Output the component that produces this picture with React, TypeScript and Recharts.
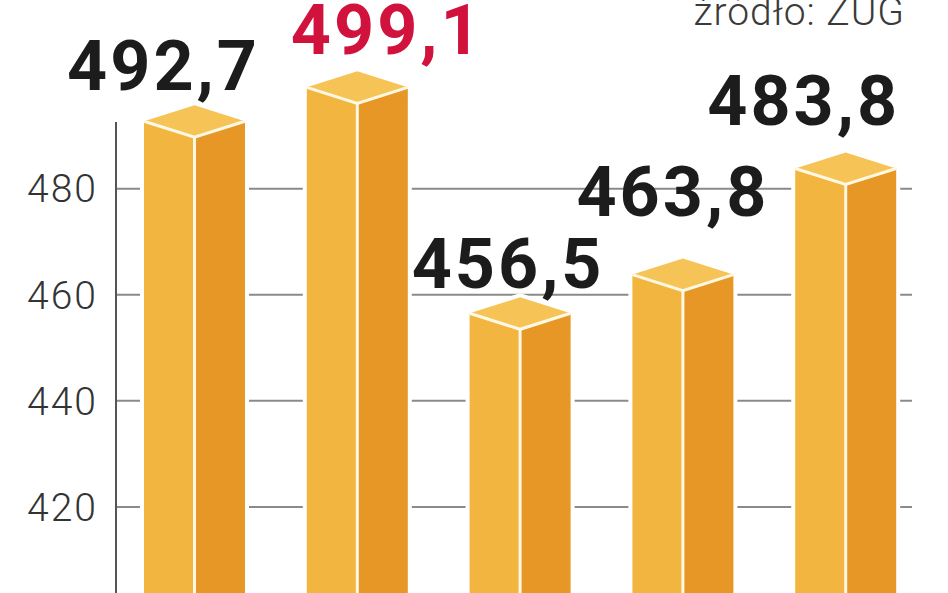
import { Bar, BarChart, CartesianGrid, LabelList, XAxis, YAxis } from 'recharts';

// yearly values
const periods = ['2009', '2010', '2011', '2012', '2013'];
const values = [492.7, 499.1, 456.5, 463.8, 483.8];
const valueLabels = ['492,7', '499,1', '456,5', '463,8', '483,8'];
const yTicks = [420, 440, 460, 480];
const highlightIndex = 1;

// hand-placed label nudges (relative to bar centre / top edge), like in the print original
const labelNudgeX = [-31, 30, -12, -10, -42];
const labelNudgeY = [-31, -33, -25, -59, -43];

const data = periods.map((period, i) => ({ period, value: values[i], label: valueLabels[i] }));

const DEPTH = 16;
const FRONT_LEFT = '#f2b640';
const FRONT_RIGHT = '#e69726';
const TOP_FACE = '#f6c456';
const EDGE = '#fff8e4';

function BoxBar(props: any) {
  const { x, y, width, height } = props;
  const cx = x + width / 2;
  const bottom = y + height;
  const silhouette = `${x},${bottom} ${x},${y} ${cx},${y - DEPTH} ${x + width},${y} ${x + width},${bottom}`;
  return (
    <g>
      <polygon points={silhouette} fill="#fff" stroke="#fff" strokeWidth={8} strokeLinejoin="round" />
      <polygon points={`${x},${y} ${cx},${y + DEPTH} ${cx},${bottom} ${x},${bottom}`} fill={FRONT_LEFT} />
      <polygon points={`${cx},${y + DEPTH} ${x + width},${y} ${x + width},${bottom} ${cx},${bottom}`} fill={FRONT_RIGHT} />
      <polygon points={`${x},${y} ${cx},${y - DEPTH} ${x + width},${y} ${cx},${y + DEPTH}`} fill={TOP_FACE} />
      <polyline
        points={`${x},${y} ${cx},${y + DEPTH} ${x + width},${y}`}
        fill="none"
        stroke={EDGE}
        strokeWidth={3}
      />
      <line x1={cx} y1={y + DEPTH} x2={cx} y2={bottom} stroke={EDGE} strokeWidth={3} />
    </g>
  );
}

function ValueLabel(props: any) {
  const { x, y, width, index, value } = props;
  return (
    <text
      x={x + width / 2 + labelNudgeX[index]}
      y={y + labelNudgeY[index]}
      textAnchor="middle"
      fontFamily="Roboto, sans-serif"
      fontWeight={700}
      fontSize={70}
      letterSpacing={3}
      fill={index === highlightIndex ? '#d0123d' : '#1c1c1c'}
    >
      {value}
    </text>
  );
}

export default function App() {
  return (
    <div
      style={{
        position: 'absolute',
        left: 0,
        top: 0,
        width: 948,
        height: 593,
        overflow: 'hidden',
        background: '#fff',
      }}
    >
      <BarChart
        width={948}
        height={613}
        data={data}
        margin={{ top: 3, right: 36, bottom: 0, left: 0 }}
        barSize={101}
      >
        <CartesianGrid vertical={false} syncWithTicks stroke="#8a8a8a" strokeWidth={2} />
        <XAxis dataKey="period" hide padding={{ left: -3, right: -15 }} />
        <YAxis
          width={116}
          domain={[400, 515]}
          ticks={yTicks}
          tickLine={false}
          tickMargin={12}
          axisLine={{ stroke: '#555', strokeWidth: 2, strokeDasharray: '0 119 2000' }}
          tick={{
            fontFamily: 'Roboto, sans-serif',
            fontWeight: 300,
            fontSize: 39,
            fill: '#333',
            letterSpacing: 2,
          }}
        />
        <Bar dataKey="value" shape={BoxBar} isAnimationActive={false}>
          <LabelList dataKey="label" content={ValueLabel} />
        </Bar>
      </BarChart>
      <div
        style={{
          position: 'absolute',
          right: 43,
          top: -11,
          fontFamily: 'Roboto, sans-serif',
          fontWeight: 300,
          fontSize: 39,
          letterSpacing: 1,
          color: '#3a3a3a',
          lineHeight: '46px',
        }}
      >
        źródło: ZUG
      </div>
    </div>
  );
}
